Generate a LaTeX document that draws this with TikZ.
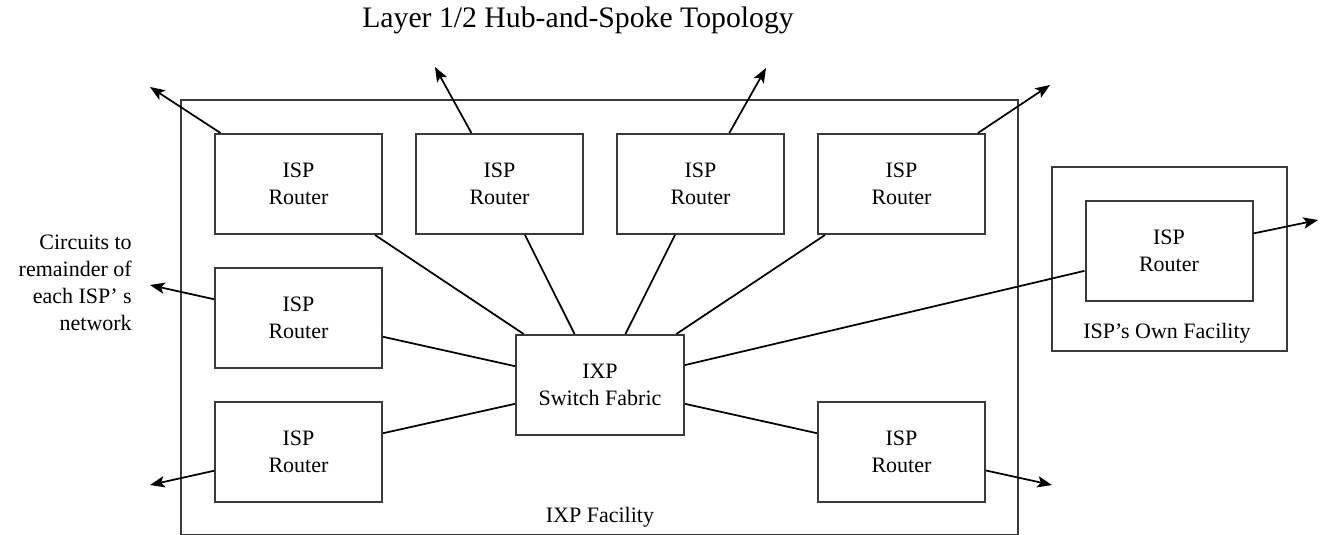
\documentclass[tikz,border=0pt]{standalone}
\usepackage{fontspec}
\setmainfont{Liberation Serif}
\usetikzlibrary{arrows.meta}
\definecolor{boxgray}{HTML}{3A3A3A}
\begin{document}
\begin{tikzpicture}[x=0.75pt,y=-0.75pt,
  box/.style={draw=boxgray,line width=1.5pt},
  router/.style={box,minimum width=125.25pt,minimum height=75pt,align=center,
    inner sep=0pt,font=\fontsize{16.5}{20.25}\selectfont},
  textlabel/.style={inner sep=0pt,font=\fontsize{16.5}{20.25}\selectfont},
  link/.style={line width=1.3pt,black},
  circuit/.style={link,-{Stealth[length=11pt,width=8.5pt,inset=2.5pt]}}]
\useasboundingbox (0,0) rectangle (1322,535);

% title
\node[inner sep=0pt,font=\fontsize{22.3}{26}\selectfont] (title) at (578,20)
  {Layer 1/2 Hub-and-Spoke Topology};

% enclosing facilities
\draw[box] (181,100) rectangle (1018,535);
\node[textlabel] (ixpfac) at (600,517) {IXP Facility};
\node[box,minimum width=176.25pt,minimum height=138pt,inner sep=0pt] (own) at (1169.5,259) {};
\node[textlabel] (ownlbl) at (1167,333) {ISP’s Own Facility};

% switch fabric
\node[router,minimum width=126pt] (ixp) at (600,385) {IXP\\Switch Fabric};

% routers
\node[router] (r1) at (298.5,184) {ISP\\Router};
\node[router] (r2) at (499.5,184) {ISP\\Router};
\node[router] (r3) at (700.5,184) {ISP\\Router};
\node[router] (r4) at (901.5,184) {ISP\\Router};
\node[router] (r5) at (298.5,318) {ISP\\Router};
\node[router] (r6) at (298.5,452) {ISP\\Router};
\node[router] (r7) at (901.5,452) {ISP\\Router};
\node[router] (r8) at (1169,251) {ISP\\Router};

% circuits label
\node[textlabel,align=right,anchor=east] (circ) at (132,283)
  {Circuits to\\remainder of\\each ISP’ s\\network};

% spokes to the switch fabric
\foreach \r in {r1,r2,r3,r4,r5,r6,r7,r8}
  \draw[link] (\r) -- (ixp);

% circuit ends
\coordinate (o1) at (150,87);
\coordinate (o2) at (435,67);
\coordinate (o3) at (766,68);
\coordinate (o4) at (1050,85);
\coordinate (o5) at (150,285);
\coordinate (o6) at (150,485);
\coordinate (o7) at (1052,485);
\coordinate (o8) at (1318,220);
\foreach \i in {1,...,8}
  \draw[circuit] (r\i) -- (o\i);
\end{tikzpicture}
\end{document}
